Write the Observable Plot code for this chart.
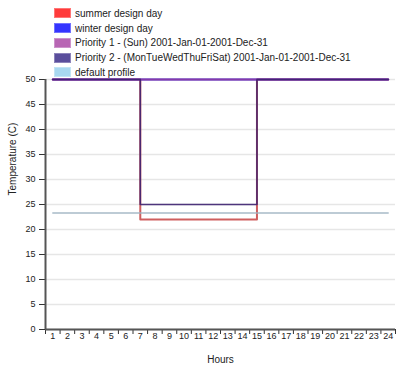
<!DOCTYPE html>
<html><head><meta charset="utf-8">
<script src="https://cdn.jsdelivr.net/npm/d3@7"></script>
<script src="https://cdn.jsdelivr.net/npm/@observablehq/plot@0.6"></script>
<style>
body{margin:0;background:#fff;font-family:"Liberation Sans",Arial,sans-serif;}
#wrap{position:relative;width:396px;height:370px;}
#legend{position:absolute;left:54px;top:6px;font-size:10px;color:#222;z-index:2;}
.row{display:flex;align-items:center;height:14.75px;white-space:nowrap;}
.sw{width:17px;height:10px;margin-right:4px;box-sizing:border-box;border:1px solid;}
#chart{position:absolute;left:0;top:0;}
</style></head><body>
<div id="wrap"><div id="legend"></div><div id="chart"></div></div>
<script>
const hours = [1,2,3,4,5,6,7,8,9,10,11,12,13,14,15,16,17,18,19,20,21,22,23,24];
const seriesNames = ["summer design day","winter design day","Priority 1 - (Sun) 2001-Jan-01-2001-Dec-31","Priority 2 - (MonTueWedThuFriSat) 2001-Jan-01-2001-Dec-31","default profile"];
const swatchColors = ["#ff3b3b","#3535ff","#b866b4","#5a4e9c","#a8d8f0"];
const lineColors = ["#c94c4c","#3a2ad0","#8b3aa6","#3d2170","#9fb2c2"];
const summer   = [50,50,50,50,50,50,22,22,22,22,22,22,22,22,50,50,50,50,50,50,50,50,50,50];
const winter   = [50,50,50,50,50,50,50,50,50,50,50,50,50,50,50,50,50,50,50,50,50,50,50,50];
const priority1= [50,50,50,50,50,50,50,50,50,50,50,50,50,50,50,50,50,50,50,50,50,50,50,50];
const priority2= [50,50,50,50,50,50,25,25,25,25,25,25,25,25,50,50,50,50,50,50,50,50,50,50];
const defaultProfile = [23.3,23.3,23.3,23.3,23.3,23.3,23.3,23.3,23.3,23.3,23.3,23.3,23.3,23.3,23.3,23.3,23.3,23.3,23.3,23.3,23.3,23.3,23.3,23.3];
const yTicks = [0,5,10,15,20,25,30,35,40,45,50];
const xBoundaries = [0.5,1.5,2.5,3.5,4.5,5.5,6.5,7.5,8.5,9.5,10.5,11.5,12.5,13.5,14.5,15.5,16.5,17.5,18.5,19.5,20.5,21.5,22.5,23.5,24.5];

const allSeries = [summer, winter, priority1, priority2, defaultProfile];
const widths = [2, 2, 2, 1.6, 1.5];

// legend
const leg = document.getElementById("legend");
seriesNames.forEach((n,i)=>{
  const r = document.createElement("div"); r.className="row";
  const s = document.createElement("div"); s.className="sw";
  s.style.background = swatchColors[i];
  s.style.borderColor = d3.interpolateRgb(swatchColors[i], "#fff")(0.3);
  const t = document.createElement("span"); t.textContent = n;
  r.appendChild(s); r.appendChild(t); leg.appendChild(r);
});

const lineMarks = allSeries.map((vals,i)=>Plot.line(hours.map((h,j)=>({h, v: vals[j]})), {
  x:"h", y:"v", curve: i===4 ? "linear" : "step-after", stroke: lineColors[i], strokeWidth: widths[i], strokeOpacity: 0.9
}));

const chart = Plot.plot({
  width: 396, height: 370,
  marginTop: 79, marginBottom: 41, marginLeft: 45, marginRight: 1,
  style: {fontFamily: "'Liberation Sans', Arial, sans-serif", background: "transparent", overflow: "visible"},
  x: {domain: [0.5, 24.5], axis: null},
  y: {domain: [0, 50], axis: null},
  marks: [
    Plot.gridY(yTicks, {stroke: "#e6e6e6", strokeOpacity: 1, strokeWidth: 1.5, x1: 0.5, x2: 24.5}),
    ...lineMarks,
    Plot.axisY(yTicks, {tickSize: 6, tickPadding: 4, fontSize: 9, label: null, stroke: "#333", fill: "#222"}),
    Plot.axisX(xBoundaries, {tickSize: 5, tickFormat: () => "", label: null, stroke: "#333"}),
    Plot.axisX(hours, {tickSize: 0, tickPadding: 3, fontSize: 9, label: null, fill: "#222"}),
    Plot.ruleX([0.5], {stroke: "#555", strokeWidth: 2}),
    Plot.ruleY([0], {stroke: "#555", strokeWidth: 1.8}),
    Plot.text(["Hours"], {frameAnchor: "bottom", dy: 33, fontSize: 10, fill: "#222"}),
    Plot.text(["Temperature (C)"], {frameAnchor: "left", rotate: -90, dx: -33, dy: -9, fontSize: 10, fill: "#222"})
  ]
});
document.getElementById("chart").appendChild(chart);
</script>
</body></html>
